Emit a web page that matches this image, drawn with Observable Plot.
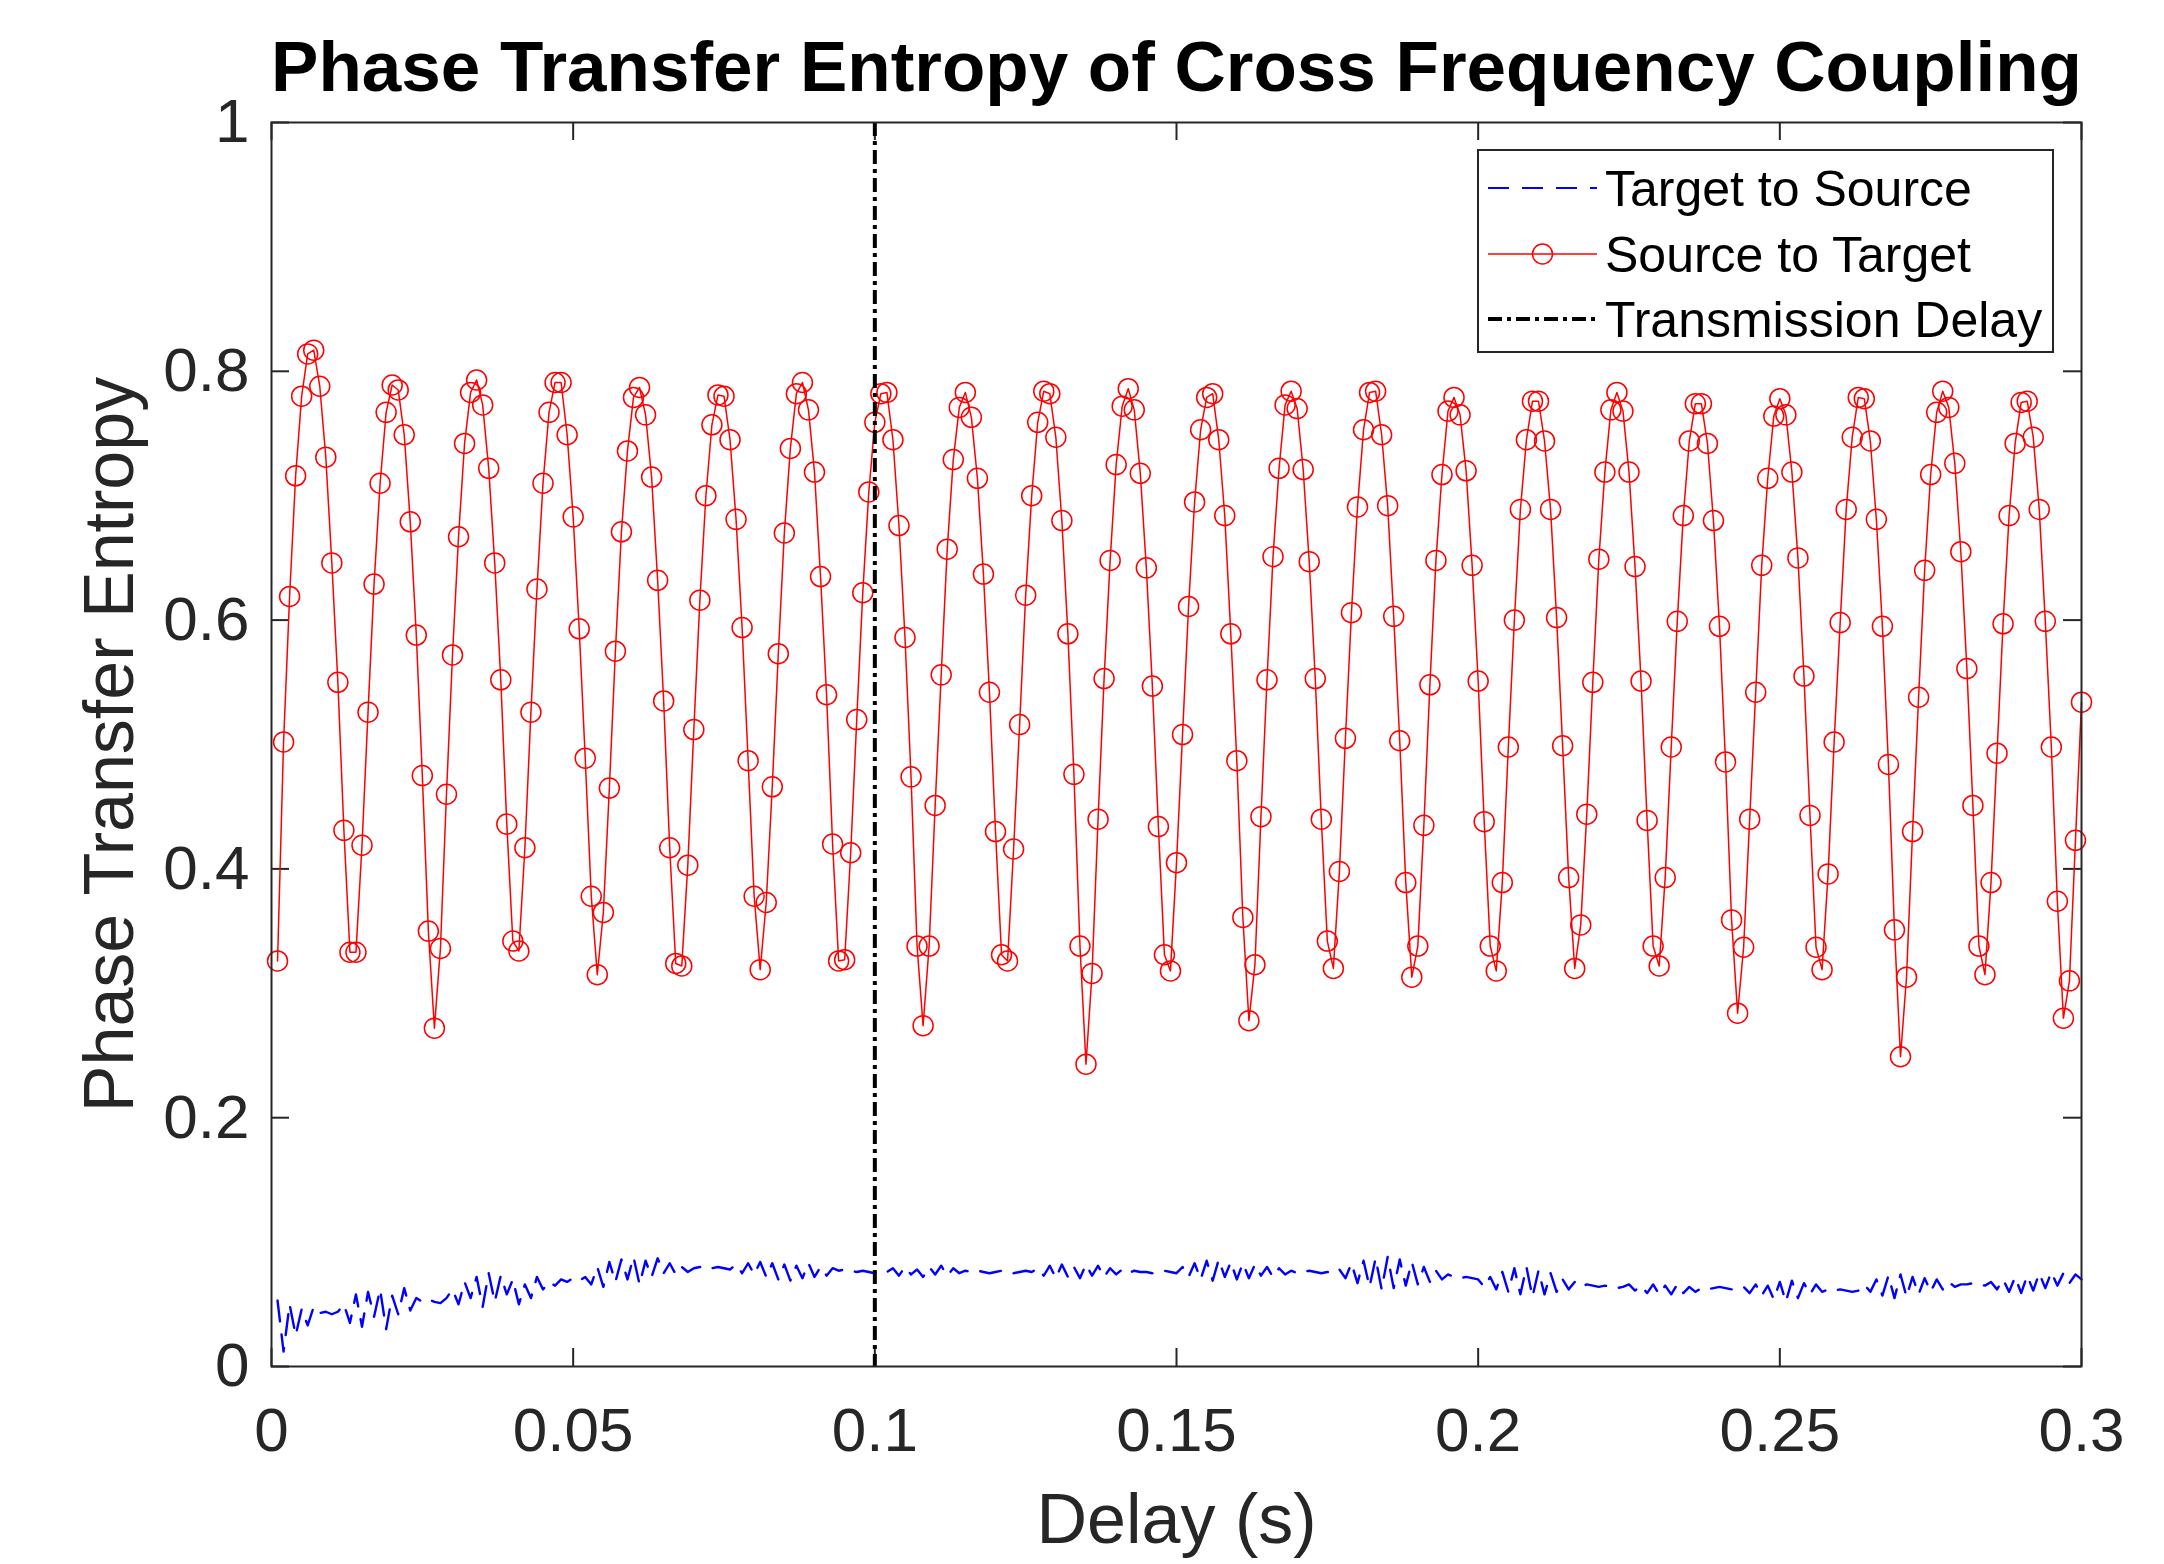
<!DOCTYPE html>
<html>
<head>
<meta charset="utf-8">
<script src="https://cdn.jsdelivr.net/npm/d3@7"></script>
<script src="https://cdn.jsdelivr.net/npm/@observablehq/plot@0.6"></script>
<style>
  body { margin: 0; background: #fff; }
  #wrap { position: relative; width: 2164px; height: 1564px; background: #fff; }
  #legend { position: absolute; left: 1477px; top: 149px; }
</style>
</head>
<body>
<div id="wrap"></div>
<script>
// ---- data ----
const titleText = "Phase Transfer Entropy of Cross Frequency Coupling";
const xLabel = "Delay (s)";
const yLabel = "Phase Transfer Entropy";
const seriesNames = ["Target to Source", "Source to Target", "Transmission Delay"];
const transmissionDelay = 0.1;
const xTicks = [0, 0.05, 0.1, 0.15, 0.2, 0.25, 0.3];
const yTicks = [0, 0.2, 0.4, 0.6, 0.8, 1];
// delays sampled every 1 ms, 0.001 .. 0.300 s
const delays = d3.range(1, 301).map(i => i / 1000);

const sourceToTarget = [
  0.326,0.502,0.619,0.716,0.780,0.814,0.817,0.788,0.731,0.646,
  0.550,0.431,0.333,0.333,0.419,0.526,0.629,0.710,0.767,0.789,
  0.785,0.749,0.679,0.588,0.475,0.350,0.272,0.336,0.460,0.572,
  0.667,0.742,0.783,0.793,0.773,0.722,0.646,0.552,0.436,0.342,
  0.334,0.417,0.526,0.625,0.710,0.767,0.791,0.791,0.749,0.683,
  0.593,0.489,0.378,0.315,0.365,0.465,0.575,0.671,0.736,0.779,
  0.787,0.765,0.715,0.632,0.535,0.417,0.324,0.322,0.403,0.512,
  0.616,0.700,0.757,0.781,0.780,0.745,0.681,0.594,0.487,0.378,
  0.319,0.373,0.466,0.573,0.670,0.738,0.782,0.791,0.769,0.719,
  0.635,0.540,0.420,0.326,0.327,0.413,0.520,0.622,0.703,0.759,
  0.782,0.783,0.745,0.676,0.586,0.474,0.338,0.274,0.338,0.451,
  0.556,0.657,0.729,0.771,0.783,0.763,0.714,0.637,0.542,0.430,
  0.331,0.326,0.416,0.516,0.620,0.700,0.759,0.784,0.782,0.747,
  0.680,0.589,0.476,0.338,0.243,0.316,0.440,0.553,0.648,0.725,
  0.772,0.786,0.769,0.718,0.642,0.547,0.434,0.331,0.318,0.405,
  0.508,0.611,0.695,0.753,0.779,0.782,0.745,0.684,0.589,0.487,
  0.361,0.278,0.323,0.442,0.552,0.651,0.722,0.773,0.784,0.770,
  0.721,0.647,0.553,0.440,0.342,0.320,0.398,0.505,0.606,0.691,
  0.753,0.783,0.784,0.749,0.692,0.603,0.503,0.389,0.313,0.338,
  0.435,0.548,0.648,0.717,0.768,0.779,0.765,0.720,0.644,0.551,
  0.438,0.338,0.318,0.389,0.498,0.600,0.689,0.745,0.776,0.776,
  0.744,0.689,0.602,0.499,0.393,0.320,0.355,0.444,0.550,0.649,
  0.719,0.769,0.783,0.768,0.719,0.643,0.551,0.439,0.338,0.322,
  0.393,0.498,0.599,0.684,0.744,0.774,0.774,0.742,0.680,0.595,
  0.486,0.359,0.284,0.337,0.440,0.542,0.644,0.714,0.764,0.778,
  0.765,0.719,0.650,0.555,0.443,0.337,0.319,0.396,0.502,0.598,
  0.689,0.747,0.779,0.778,0.744,0.681,0.595,0.484,0.351,0.249,
  0.313,0.430,0.538,0.640,0.717,0.767,0.784,0.771,0.726,0.655,
  0.561,0.451,0.338,0.315,0.389,0.493,0.597,0.684,0.742,0.775,
  0.776,0.747,0.689,0.599,0.498,0.374,0.280,0.310,0.423,0.534
];

const targetToSource = [
  0.053,0.012,0.050,0.025,0.046,0.033,0.048,0.043,0.044,0.042,
  0.044,0.050,0.035,0.058,0.032,0.060,0.040,0.062,0.030,0.057,
  0.042,0.063,0.045,0.055,0.052,0.054,0.052,0.051,0.055,0.062,
  0.050,0.068,0.055,0.072,0.048,0.075,0.052,0.073,0.058,0.070,
  0.050,0.066,0.055,0.072,0.062,0.068,0.065,0.070,0.068,0.071,
  0.069,0.072,0.066,0.080,0.064,0.084,0.068,0.086,0.070,0.088,
  0.066,0.085,0.072,0.087,0.075,0.083,0.074,0.080,0.076,0.079,
  0.080,0.078,0.079,0.080,0.079,0.078,0.082,0.075,0.083,0.074,
  0.084,0.072,0.083,0.070,0.082,0.069,0.081,0.071,0.083,0.072,
  0.080,0.073,0.079,0.077,0.078,0.077,0.076,0.077,0.076,0.075,
  0.077,0.076,0.079,0.073,0.080,0.074,0.078,0.072,0.080,0.074,
  0.081,0.073,0.079,0.075,0.077,0.076,0.077,0.076,0.075,0.076,
  0.077,0.076,0.075,0.076,0.077,0.076,0.079,0.073,0.081,0.071,
  0.082,0.072,0.080,0.071,0.082,0.073,0.081,0.072,0.079,0.074,
  0.078,0.075,0.077,0.076,0.076,0.075,0.076,0.077,0.076,0.075,
  0.080,0.072,0.083,0.070,0.085,0.069,0.086,0.072,0.084,0.070,
  0.083,0.071,0.082,0.073,0.080,0.072,0.079,0.074,0.077,0.075,
  0.076,0.077,0.076,0.075,0.076,0.075,0.078,0.071,0.083,0.067,
  0.085,0.064,0.087,0.062,0.088,0.063,0.086,0.065,0.084,0.066,
  0.080,0.068,0.077,0.070,0.074,0.072,0.071,0.072,0.071,0.070,
  0.064,0.072,0.062,0.076,0.060,0.079,0.058,0.080,0.056,0.077,
  0.058,0.075,0.060,0.070,0.062,0.068,0.064,0.066,0.065,0.064,
  0.065,0.064,0.063,0.064,0.066,0.061,0.065,0.059,0.066,0.058,
  0.065,0.058,0.066,0.059,0.064,0.060,0.063,0.062,0.063,0.064,
  0.063,0.062,0.063,0.064,0.059,0.066,0.057,0.065,0.054,0.068,
  0.052,0.069,0.055,0.067,0.058,0.066,0.060,0.062,0.061,0.062,
  0.061,0.060,0.061,0.066,0.060,0.070,0.057,0.073,0.055,0.074,
  0.056,0.072,0.058,0.071,0.060,0.070,0.062,0.068,0.064,0.066,
  0.066,0.067,0.066,0.065,0.068,0.062,0.070,0.060,0.072,0.059,
  0.073,0.061,0.075,0.063,0.076,0.065,0.075,0.067,0.074,0.070
];

// ---- build tables ----
const redData = delays.map((d, i) => ({delay: d, pte: sourceToTarget[i]}));
const blueData = delays.map((d, i) => ({delay: d, pte: targetToSource[i]}));

const W = 2164, H = 1564;
const mL = 271, mR = 83, mT = 122, mB = 198;
const frameW = W - mL - mR, frameH = H - mT - mB;
const tickLen = 18;
const axisColor = "#262626";
const fontFam = "'Liberation Sans', Arial, Helvetica, sans-serif";
const fmt = d => String(+d.toFixed(2));

const chart = Plot.plot({
  width: W,
  height: H,
  marginLeft: mL,
  marginRight: mR,
  marginTop: mT,
  marginBottom: mB,
  style: {fontFamily: fontFam, fontSize: "62px", color: axisColor, background: "#fff", overflow: "visible"},
  x: {domain: [0, 0.3]},
  y: {domain: [0, 1]},
  marks: [
    // tick labels via Plot axes
    Plot.axisX(xTicks, {anchor: "bottom", tickSize: 0, tickPadding: 40, tickFormat: fmt, label: null, fontSize: 62, fill: axisColor}),
    Plot.axisY(yTicks, {anchor: "left", tickSize: 0, tickPadding: 22, tickFormat: fmt, label: null, fontSize: 62, fill: axisColor}),
    // inward tick marks on all four sides
    Plot.tickX(xTicks, {x: d => d, insetTop: frameH - tickLen, stroke: axisColor, strokeWidth: 2}),
    Plot.tickX(xTicks, {x: d => d, insetBottom: frameH - tickLen, stroke: axisColor, strokeWidth: 2}),
    Plot.tickY(yTicks, {y: d => d, insetRight: frameW - tickLen, stroke: axisColor, strokeWidth: 2}),
    Plot.tickY(yTicks, {y: d => d, insetLeft: frameW - tickLen, stroke: axisColor, strokeWidth: 2}),
    // Target to Source (blue dashed)
    Plot.line(blueData, {x: "delay", y: "pte", stroke: "#0000ff", strokeWidth: 2.4, strokeDasharray: "21,13"}),
    // Source to Target (red line + circles)
    Plot.line(redData, {x: "delay", y: "pte", stroke: "#ff0000", strokeWidth: 1.5}),
    Plot.dot(redData, {x: "delay", y: "pte", r: 10, stroke: "#ff0000", fill: "none", strokeWidth: 1.5}),
    // Transmission delay
    Plot.ruleX([transmissionDelay], {stroke: "#000", strokeWidth: 4, strokeDasharray: "14,5,4,5"}),
    Plot.frame({stroke: axisColor, strokeWidth: 2}),
    // title and axis labels
    Plot.text([titleText], {frameAnchor: "top", text: d => d, dy: -32, lineAnchor: "bottom", fontSize: 71, fontWeight: "bold", fill: "#000"}),
    Plot.text([xLabel], {frameAnchor: "bottom", text: d => d, dy: 176, lineAnchor: "bottom", fontSize: 70, fill: axisColor}),
    Plot.text([yLabel], {frameAnchor: "left", text: d => d, dx: -161, rotate: -90, textAnchor: "middle", lineAnchor: "middle", fontSize: 70, fill: axisColor})
  ]
});

const wrap = document.getElementById("wrap");
wrap.appendChild(chart);

// ---- legend (HTML overlay) ----
const legW = 577, legH = 204;
const rows = [39, 105, 170];
const leg = d3.select(wrap).append("svg")
  .attr("id", "legend")
  .attr("width", legW).attr("height", legH)
  .style("font-family", fontFam);
leg.append("rect").attr("x", 1).attr("y", 1).attr("width", legW - 2).attr("height", legH - 2)
  .attr("fill", "#fff").attr("stroke", axisColor).attr("stroke-width", 2);
const sx0 = 11, sx1 = 120, tx = 128;
// Target to Source
leg.append("line").attr("x1", sx0).attr("x2", sx1).attr("y1", rows[0]).attr("y2", rows[0])
  .attr("stroke", "#0000ff").attr("stroke-width", 2).attr("stroke-dasharray", "21,13");
// Source to Target
leg.append("line").attr("x1", sx0).attr("x2", sx1).attr("y1", rows[1]).attr("y2", rows[1])
  .attr("stroke", "#ff0000").attr("stroke-width", 1.5);
leg.append("circle").attr("cx", (sx0 + sx1) / 2).attr("cy", rows[1]).attr("r", 10)
  .attr("fill", "none").attr("stroke", "#ff0000").attr("stroke-width", 1.5);
// Transmission delay
leg.append("line").attr("x1", sx0).attr("x2", sx1).attr("y1", rows[2]).attr("y2", rows[2])
  .attr("stroke", "#000").attr("stroke-width", 4).attr("stroke-dasharray", "14,5,4,5");
seriesNames.forEach((name, i) => {
  leg.append("text").attr("x", tx).attr("y", rows[i]).attr("dy", "0.35em")
    .attr("font-size", 50).attr("fill", "#000").text(name);
});
</script>
</body>
</html>
